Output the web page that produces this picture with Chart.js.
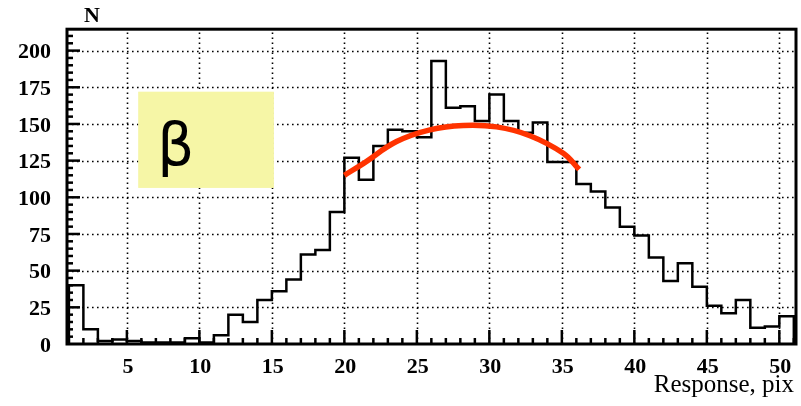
<!DOCTYPE html>
<html>
<head>
<meta charset="utf-8">
<script src="https://cdn.jsdelivr.net/npm/chart.js@4/dist/chart.umd.min.js"></script>
<style>
  html, body { margin: 0; padding: 0; background: #fff; }
  #wrap { width: 801px; height: 406px; position: relative; }
</style>
</head>
<body>
<div id="wrap"><canvas id="ch" width="801" height="406"></canvas></div>
<script>
// Histogram: bins of width 1 starting at x=1
const binStart = 1;
const counts = [40, 10, 2, 3, 2, 1, 1, 1, 4, 1, 6, 20, 15, 30, 36, 44, 61, 64, 90, 127,
                112, 135, 146, 145, 141, 193, 161, 162, 152, 170, 152, 144, 151, 124, 124, 109, 104, 93, 80, 74,
                59, 43, 55, 39, 26, 21, 30, 11, 12, 19];

// Fit curve
const fitX = [20, 21.3, 23.6, 25.9, 28.2, 30.5, 32.8, 35.1, 36.2];
const fitY = [115, 123, 138, 146, 149, 148, 142, 130, 119];

const xTicks = [5, 10, 15, 20, 25, 30, 35, 40, 45, 50];
const yTicks = [0, 25, 50, 75, 100, 125, 150, 175, 200];

const labelText = 'β';
const xTitle = 'Response, pix';
const yTitle = 'N';

const serif = "'Liberation Serif', 'Times New Roman', serif";

// histogram outline as step points
const histPts = [{x: binStart, y: 0}];
counts.forEach((c, i) => histPts.push({x: binStart + i, y: c}));
histPts.push({x: binStart + counts.length, y: counts[counts.length - 1]});
histPts.push({x: binStart + counts.length, y: 0});

const fitPts = fitX.map((x, i) => ({x, y: fitY[i]}));

const decor = {
  id: 'decor',
  beforeDatasetsDraw(chart) {
    const {ctx, chartArea: a, scales: {x, y}} = chart;
    ctx.save();
    // dotted grid
    ctx.strokeStyle = '#000';
    ctx.lineWidth = 1.6;
    ctx.setLineDash([1.6, 3.4]);
    xTicks.forEach(v => {
      const px = Math.round(x.getPixelForValue(v)) + 0.5;
      ctx.beginPath(); ctx.moveTo(px, a.bottom); ctx.lineTo(px, a.top); ctx.stroke();
    });
    yTicks.slice(1).forEach(v => {
      const py = Math.round(y.getPixelForValue(v)) + 0.5;
      ctx.beginPath(); ctx.moveTo(a.left, py); ctx.lineTo(a.right, py); ctx.stroke();
    });
    ctx.setLineDash([]);
    // yellow label box
    const bx0 = x.getPixelForValue(5.78), bx1 = x.getPixelForValue(15.14);
    const by0 = y.getPixelForValue(172), by1 = y.getPixelForValue(106.4);
    ctx.fillStyle = '#f6f6a6';
    ctx.fillRect(bx0, by0, bx1 - bx0, by1 - by0);
    ctx.fillStyle = '#000';
    ctx.font = "58px 'DejaVu Sans', sans-serif";
    ctx.textBaseline = 'alphabetic';
    ctx.textAlign = 'left';
    ctx.fillText(labelText, bx0 + 19, by0 + 73);
    ctx.restore();
  },
  afterDatasetsDraw(chart) {
    const {ctx, chartArea: a, scales: {x, y}} = chart;
    ctx.save();
    ctx.strokeStyle = '#000';
    ctx.lineWidth = 2.5;
    // x ticks (minor each unit, major each 5)
    for (let v = 1; v <= 51; v++) {
      const px = x.getPixelForValue(v);
      const len = v % 5 === 0 ? 14 : 6;
      ctx.beginPath(); ctx.moveTo(px, a.bottom); ctx.lineTo(px, a.bottom - len); ctx.stroke();
    }
    // y ticks (minor each 5, major each 25)
    for (let v = 5; v <= 210; v += 5) {
      const py = y.getPixelForValue(v);
      const len = v % 25 === 0 ? 13 : 6;
      ctx.beginPath(); ctx.moveTo(a.left, py); ctx.lineTo(a.left + len, py); ctx.stroke();
    }
    // frame
    ctx.lineWidth = 3;
    ctx.strokeRect(a.left, a.top, a.right - a.left, a.bottom - a.top);
    // titles
    ctx.fillStyle = '#000';
    ctx.font = 'bold 22px ' + serif;
    ctx.textAlign = 'center';
    ctx.textBaseline = 'alphabetic';
    ctx.fillText(yTitle, 92, 22);
    ctx.textAlign = 'right';
    ctx.font = '25px ' + serif;
    ctx.fillText(xTitle, a.right - 2, 392);
    ctx.restore();
  }
};

new Chart(document.getElementById('ch'), {
  type: 'scatter',
  data: {
    datasets: [
      {data: fitPts, showLine: true, borderColor: '#ff3300', borderWidth: 5.5, tension: 0.4,
       pointRadius: 0, fill: false, order: 0, borderCapStyle: 'butt'},
      {data: histPts, showLine: true, stepped: 'before', borderColor: '#000', borderWidth: 2.5,
       pointRadius: 0, fill: false, order: 1}
    ]
  },
  options: {
    responsive: false,
    animation: false,
    devicePixelRatio: 1,
    layout: {padding: {top: 24, right: 5, left: 0, bottom: 0}},
    plugins: {legend: {display: false}, tooltip: {enabled: false}},
    scales: {
      x: {
        type: 'linear', min: 0.87, max: 51.15,
        afterBuildTicks: s => { s.ticks = xTicks.map(v => ({value: v})); },
        afterFit: s => { s.height = 62; },
        grid: {display: false, drawTicks: false},
        border: {display: false},
        ticks: {color: '#000', padding: 10, labelOffset: 1, maxRotation: 0, autoSkip: false,
                font: {family: serif, size: 22, weight: 'bold'}}
      },
      y: {
        type: 'linear', min: 0, max: 214.6,
        afterBuildTicks: s => { s.ticks = yTicks.map(v => ({value: v})); },
        afterFit: s => { s.width = 67; },
        grid: {display: false, drawTicks: false},
        border: {display: false},
        ticks: {color: '#000', padding: 16, labelOffset: 2, autoSkip: false,
                font: {family: serif, size: 22, weight: 'bold'}}
      }
    }
  },
  plugins: [decor]
});
</script>
</body>
</html>
